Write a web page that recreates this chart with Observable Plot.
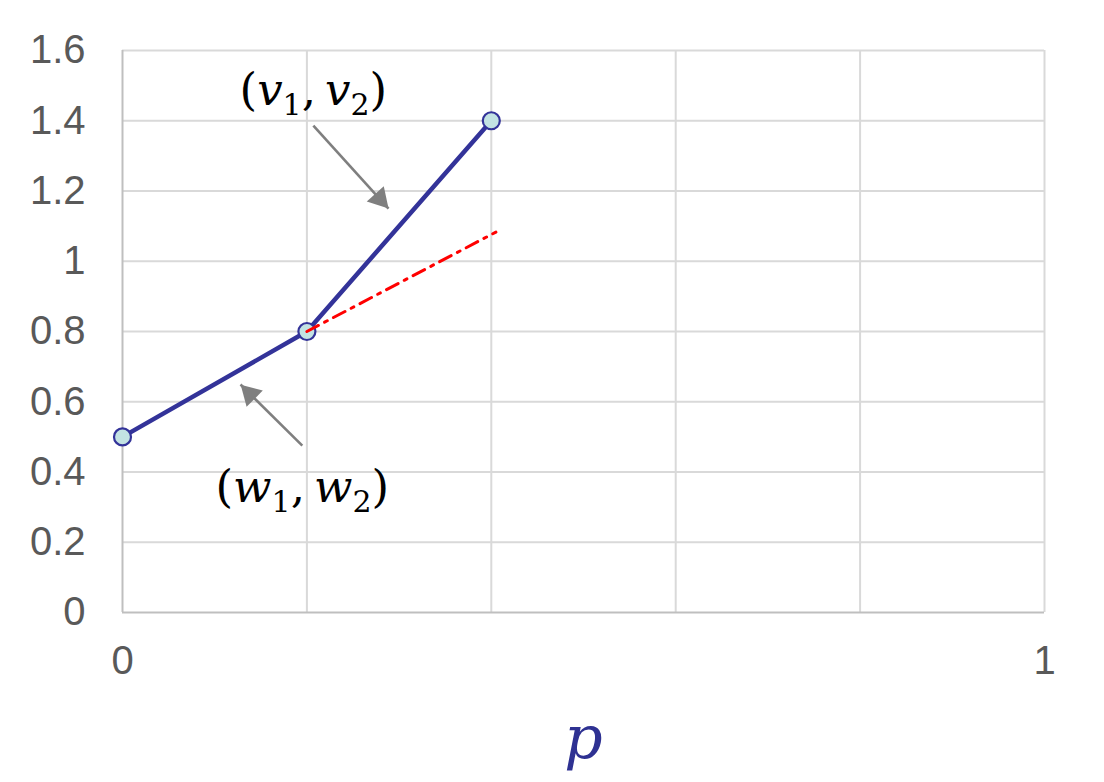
<!DOCTYPE html>
<html>
<head>
<meta charset="utf-8">
<script src="https://cdn.jsdelivr.net/npm/d3@7"></script>
<script src="https://cdn.jsdelivr.net/npm/@observablehq/plot@0.6"></script>
<style>
  html, body { margin: 0; padding: 0; background: #fff; }
</style>
</head>
<body>
<div id="chart"></div>
<script>
// ---- data ----
const pointX = [0, 0.2, 0.4];
const pointY = [0.5, 0.8, 1.4];
const tangentX = [0.2, 0.405];
const tangentY = [0.8, 1.083];
const yTicks = [0, 0.2, 0.4, 0.6, 0.8, 1, 1.2, 1.4, 1.6];
const xGrid = [0, 0.2, 0.4, 0.6, 0.8, 1];
const xTickLabels = [0, 1];
const labelLetters = ["v", "w"];
const labelX = [0.207, 0.195];
const labelY = [1.486, 0.356];
const arrowFromX = [0.207, 0.195];
const arrowFromY = [1.386, 0.475];
const arrowToX = [0.2885, 0.128];
const arrowToY = [1.150, 0.649];
const axisTitle = "p";

const pts = pointX.map((x, i) => ({x, y: pointY[i]}));
const tangent = tangentX.map((x, i) => ({x, y: tangentY[i]}));
const labels = labelLetters.map((t, i) => ({t, x: labelX[i], y: labelY[i]}));
const arrows = arrowFromX.map((x1, i) => ({x1, y1: arrowFromY[i], x2: arrowToX[i], y2: arrowToY[i]}));

const gridColor = "#d9d9d9";
const blue = "#333399";
const arrowColor = "#7f7f7f";

const chart = Plot.plot({
  width: 1104,
  height: 782,
  marginLeft: 122,
  marginRight: 60,
  marginTop: 50,
  marginBottom: 170,
  style: {fontFamily: "'Liberation Sans', Arial, sans-serif", background: "#fff"},
  x: {domain: [0, 1]},
  y: {domain: [0, 1.6]},
  marks: [
    Plot.ruleY(yTicks.filter(d => d !== 0), {stroke: gridColor, strokeWidth: 2}),
    Plot.ruleX(xGrid.filter(d => d !== 0), {stroke: gridColor, strokeWidth: 2, y1: 0, y2: 1.6}),
    Plot.ruleY([0], {stroke: "#bfbfbf", strokeWidth: 2}),
    Plot.ruleX([0], {stroke: "#bfbfbf", strokeWidth: 2, y1: 0, y2: 1.6}),
    Plot.axisY({ticks: yTicks, tickSize: 0, tickPadding: 37, fontSize: 40, fill: "#595959", tickFormat: d => String(d), label: null}),
    Plot.axisX({ticks: xTickLabels, tickSize: 0, tickPadding: 33, fontSize: 40, fill: "#595959", tickFormat: d => String(d), label: null}),
    Plot.line(pts, {x: "x", y: "y", stroke: blue, strokeWidth: 4.5}),
    Plot.dot(pts, {x: "x", y: "y", r: 8.5, fill: "#c3e3e3", stroke: blue, strokeWidth: 2.2}),
    Plot.line(tangent, {x: "x", y: "y", stroke: "#ff0000", strokeWidth: 3, strokeDasharray: "13,7,3,7"}),
    Plot.link(arrows, {x1: "x1", y1: "y1", x2: "x2", y2: "y2", stroke: arrowColor, strokeWidth: 2.6}),
    Plot.dot([arrows[0]], {x: "x2", y: "y2", symbol: "triangle", r: 8.5, fill: arrowColor, stroke: "none", rotate: 138, dx: -8.8, dy: -9.8}),
    Plot.dot([arrows[1]], {x: "x2", y: "y2", symbol: "triangle", r: 8.5, fill: arrowColor, stroke: "none", rotate: 315, dx: 9.5, dy: 9.5}),
    Plot.text(labels, {x: "x", y: "y", text: "t", className: "mathlbl", fontSize: 45, fill: "#000", fontFamily: "'DejaVu Serif', serif"}),
    Plot.text([axisTitle], {frameAnchor: "bottom", dy: 145, text: d => d, fontSize: 60, fontStyle: "italic", fill: "#2e3192", fontFamily: "'DejaVu Serif', serif"})
  ]
});

// Rebuild labels as (L₁, L₂) with italic letters and subscripts
d3.select(chart).selectAll(".mathlbl text").each(function() {
  const L = this.textContent;
  const t = d3.select(this);
  t.text(null);
  t.append("tspan").text("(");
  t.append("tspan").attr("font-style", "italic").text(L);
  t.append("tspan").attr("font-size", "30").attr("dy", "10").text("1");
  t.append("tspan").attr("dy", "-10").text(",\u2009");
  t.append("tspan").attr("font-style", "italic").text(L);
  t.append("tspan").attr("font-size", "30").attr("dy", "10").text("2");
  t.append("tspan").attr("dy", "-10").text(")");
});

document.getElementById("chart").appendChild(chart);
</script>
</body>
</html>
